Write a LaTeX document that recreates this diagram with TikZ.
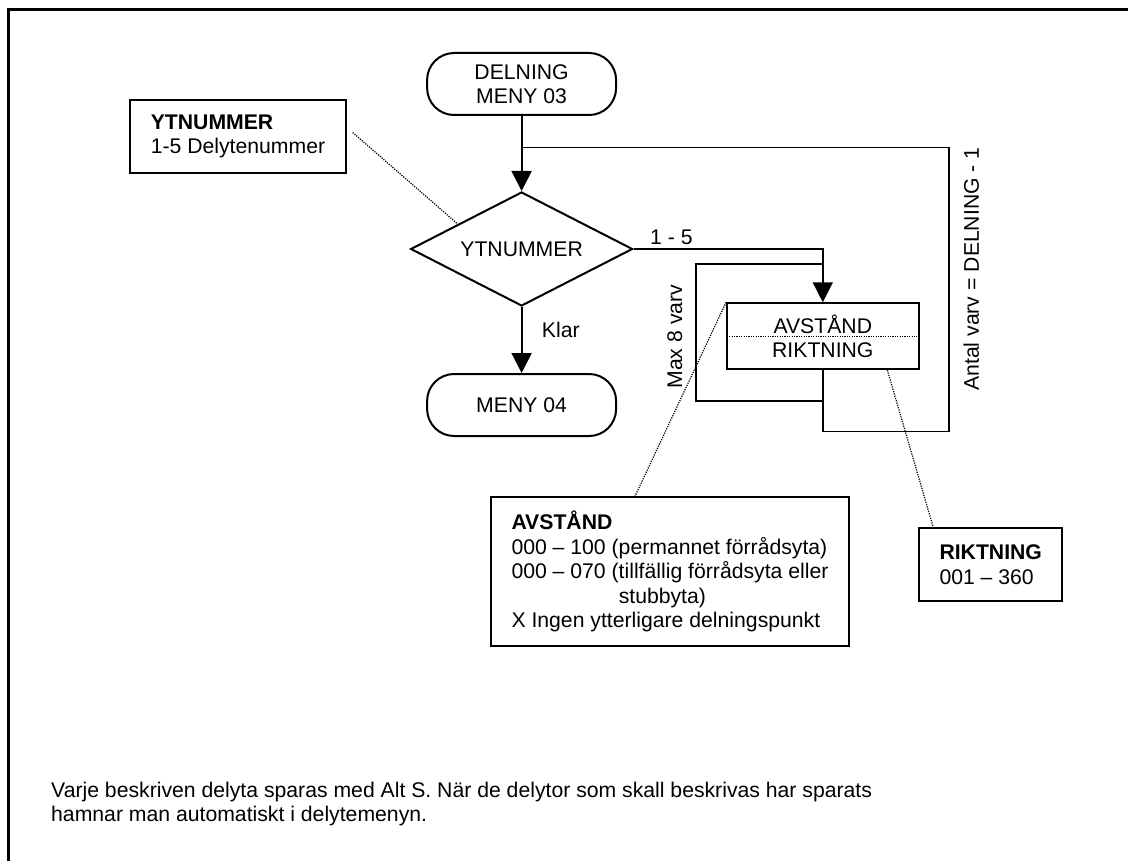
\documentclass[tikz,border=0pt]{standalone}
\usepackage{fontspec}
\setmainfont{Liberation Sans}
\usetikzlibrary{shapes.geometric,arrows.meta,calc}

\tikzset{
  txt/.style={font=\fontsize{21.2}{24.5}\selectfont},
  box/.style={txt, draw, line width=2pt},
  terminal/.style={box, rounded corners=27pt, minimum width=189pt, minimum height=62pt, align=center},
  decision/.style={box, diamond, aspect=1.95, minimum width=222pt, minimum height=114pt, inner sep=2pt},
  process/.style={box, rectangle, minimum width=191.4pt, minimum height=66pt, align=center},
  note/.style={box, rectangle, align=left, inner xsep=20.5pt, anchor=north west},
  flow/.style={line width=2pt, -{Triangle[length=20pt,width=20pt]}},
  retur/.style={line width=1.5pt},
  leader/.style={line width=1.2pt, dash pattern=on 1.2pt off 1.2pt},
}

\begin{document}
\begin{tikzpicture}[x=1pt, y=-1pt]
  \useasboundingbox (0,0) rectangle (1128,861);

  % Frame of the page
  \draw[line width=2.7pt] (8.7,861) -- (8.7,9.7) -- (1128,9.7);

  % Define the flow chart
  \node[terminal] (start) at (521.6,84) {DELNING\\MENY 03};
  \node[decision] (ytnr) at (521.6,249) {YTNUMMER};
  \node[terminal] (meny04) at (521.6,405) {MENY 04};
  \node[process] (avst) at (822.8,336.3) {AVSTÅND\\RIKTNING};
  \draw[leader] ([xshift=3pt]avst.west) -- ([xshift=-3pt]avst.east);

  % Points where the loops join
  \coordinate (join) at (521.6,147.3);
  \coordinate (rcorner) at (949,431.7);
  \coordinate (maxbot) at (822.8,401);
  \coordinate (maxtop) at (822.8,264);

  % Connect the steps
  \draw[flow] (start.south) -- (ytnr.north);
  \draw[flow] (ytnr.south) -- node[txt, pos=0.34, right=16pt] {Klar} (meny04.north);
  \draw[flow, line width=1.5pt] (ytnr.east) -| node[txt, pos=0.1, above] {1 - 5} (avst.north);
  \draw[retur] (avst.south) |- (rcorner) |- (join);
  \draw[retur] (maxbot) -- ++(-126.7,0) |- (maxtop);

  % Loop labels
  \node[txt, rotate=90] (maxlbl) at (674.7,336.7) {Max 8 varv};
  \node[txt, rotate=90] (antal) at (971.3,269) {Antal varv = DELNING - 1};

  % Explanation boxes
  \node[note, minimum height=73pt] (ytnote) at (129.3,99) {\textbf{YTNUMMER}\\1-5 Delytenummer};
  \node[note, minimum height=149pt] (avstnote) at (490,496) {\textbf{AVSTÅND}\\000 – 100 (permannet förrådsyta)\\000 – 070 (tillfällig förrådsyta eller\\\phantom{000 – 070 (}stubbyta)\\X Ingen ytterligare delningspunkt};
  \node[note, minimum height=73pt] (riktnote) at (918,527) {\textbf{RIKTNING}\\001 – 360};

  \draw[leader] ([shift={(6,-4)}]ytnote.east) -- ($(ytnr.west)!0.43!(ytnr.north)$);
  \draw[leader] (avst.north west) -- ($(avstnote.north west)!0.403!(avstnote.north east)$);
  \draw[leader] ($(avst.south west)!0.834!(avst.south east)$) -- ($(riktnote.north west)!0.104!(riktnote.north east)$);

  % Text at the foot
  \node[txt, anchor=north west, inner sep=0pt, align=left] (foot) at (51,781.5) {Varje beskriven delyta sparas med Alt S. När de delytor som skall beskrivas har sparats\\hamnar man automatiskt i delytemenyn.};
\end{tikzpicture}
\end{document}
